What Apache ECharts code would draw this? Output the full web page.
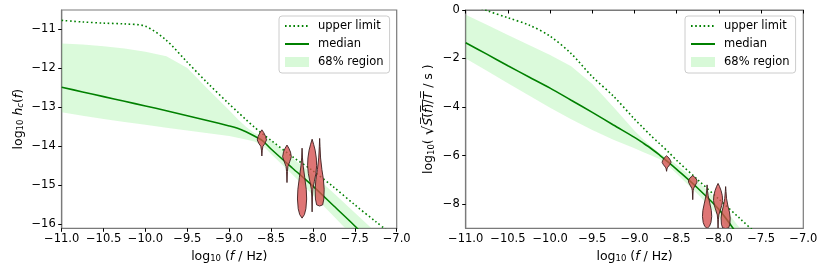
<!DOCTYPE html>
<html><head><meta charset="utf-8">
<script src="https://cdn.jsdelivr.net/npm/echarts@6/dist/echarts.min.js"></script>
<style>html,body{margin:0;padding:0;background:#fff}#c{width:831px;height:274px}</style>
</head><body><div id="c"></div>
<script>
// ---------- data ----------
const freqs = [-11, -10.75, -10.5, -10.25, -10, -9.75, -9.5, -9.25, -9, -8.9, -8.8, -8.7, -8.6, -8.5, -8.25, -8, -7.75, -7.5, -7.25, -7];

// left panel: log10 h_c(f)
const leftUpperLimit = [-10.78, -10.82, -10.85, -10.87, -10.93, -11.29, -11.85, -12.4, -12.92, -13.12, -13.32, -13.51, -13.69, -13.85, -14.26, -14.63, -15.05, -15.5, -15.93, -16.35];
const leftMedian     = [-12.49, -12.61, -12.73, -12.85, -12.97, -13.09, -13.22, -13.35, -13.48, -13.54, -13.63, -13.74, -13.86, -14.07, -14.55, -15.02, -15.53, -16.04, -16.6, -17.1];
const leftBandUpper  = [-11.37, -11.4, -11.44, -11.5, -11.58, -11.7, -12.0, -12.55, -13.08, -13.3, -13.5, -13.66, -13.74, -13.86, -14.3, -14.72, -15.2, -15.7, -16.2, -16.7];
const leftBandLower  = [-13.13, -13.22, -13.3, -13.38, -13.45, -13.53, -13.6, -13.67, -13.74, -13.78, -13.83, -13.88, -13.98, -14.2, -14.72, -15.25, -15.8, -16.35, -16.9, -17.4];

// right panel: log10( sqrt(S(f)/T) / s )
const rightUpperLimit = [0.35, -0.02, -0.32, -0.62, -1.08, -1.8, -2.75, -3.55, -4.5, -4.85, -5.2, -5.52, -5.85, -6.2, -7.0, -7.8, -8.6, -9.4, -10.2, -11.0];
const rightMedian     = [-1.35, -1.82, -2.3, -2.76, -3.22, -3.72, -4.22, -4.74, -5.25, -5.48, -5.72, -5.99, -6.27, -6.57, -7.35, -8.22, -9.4, -10.6, -11.8, -13.0];
const rightBandUpper  = [-0.2, -0.61, -1.03, -1.44, -1.86, -2.32, -3.05, -4.0, -4.98, -5.32, -5.63, -5.92, -6.12, -6.38, -7.08, -7.9, -9.0, -10.1, -11.2, -12.3];
const rightBandLower  = [-2.0, -2.5, -3.02, -3.53, -4.03, -4.5, -4.95, -5.35, -5.7, -5.85, -6.0, -6.15, -6.42, -6.75, -7.6, -8.5, -9.7, -10.9, -12.1, -13.3];

// violins: centre frequency and profile [value, half-width in log10 f]
const leftViolinFreqs = [-8.61, -8.31, -8.13, -8.01, -7.92];
const leftViolinProfiles = [
  [[-13.58,0],[-13.65,0.022],[-13.75,0.045],[-13.84,0.055],[-13.93,0.036],[-14.0,0.013],[-14.1,0.005],[-14.25,0]],
  [[-13.97,0],[-14.05,0.022],[-14.15,0.042],[-14.27,0.052],[-14.4,0.032],[-14.52,0.011],[-14.65,0.005],[-14.93,0]],
  [[-14.05,0],[-14.3,0.005],[-14.5,0.013],[-14.8,0.032],[-15.1,0.05],[-15.35,0.055],[-15.6,0.046],[-15.75,0.028],[-15.84,0]],
  [[-13.82,0],[-13.95,0.018],[-14.1,0.036],[-14.3,0.05],[-14.5,0.054],[-14.7,0.045],[-14.9,0.027],[-15.1,0.009],[-15.3,0.004],[-15.68,0]],
  [[-13.8,0],[-14.0,0.004],[-14.3,0.011],[-14.6,0.027],[-14.85,0.045],[-15.1,0.054],[-15.35,0.05],[-15.5,0.036],[-15.53,0]]
];
const rightViolinFreqs = [-8.62, -8.31, -8.14, -8.01, -7.92];
const rightViolinProfiles = [
  [[-6.01,0],[-6.1,0.028],[-6.2,0.046],[-6.28,0.053],[-6.38,0.037],[-6.48,0.014],[-6.55,0.005],[-6.65,0]],
  [[-6.83,0],[-6.92,0.032],[-7.02,0.05],[-7.1,0.05],[-7.22,0.032],[-7.35,0.011],[-7.45,0.005],[-7.82,0]],
  [[-7.21,0],[-7.46,0.005],[-7.66,0.013],[-7.96,0.032],[-8.26,0.05],[-8.51,0.055],[-8.76,0.046],[-8.92,0.028],[-9.0,0]],
  [[-7.15,0],[-7.28,0.018],[-7.45,0.036],[-7.65,0.05],[-7.85,0.054],[-8.05,0.045],[-8.25,0.027],[-8.45,0.009],[-8.65,0.004],[-9.03,0]],
  [[-7.28,0],[-7.48,0.004],[-7.78,0.011],[-8.08,0.027],[-8.33,0.045],[-8.58,0.054],[-8.83,0.05],[-8.98,0.036],[-9.01,0]]
];

const xTickStep = 0.5;
const leftYTicks = [-16, -15, -14, -13, -12, -11];
const rightYTicks = [-8, -6, -4, -2, 0];
const seriesNames = ['upper limit', 'median', '68% region'];

// ---------- styling ----------
const FONT = 'DejaVu Sans';
const GREEN = '#008000';
const BAND = 'rgba(144,238,144,0.32)';
const VIOLIN_FILL = 'rgba(214,78,78,0.78)';
const VIOLIN_EDGE = 'rgba(60,30,30,0.9)';
const FRAME = '#7a7a7a';

function pairs(xs, ys) { return xs.map((x, i) => [x, ys[i]]); }
function fmtMinus(v, d) { const s = Math.abs(v).toFixed(d); return (v < 0 ? '\u2212' : '') + s; }

function clipGroup(params, children) {
  const cs = params.coordSys;
  return { type: 'group', children,
    clipPath: { type: 'rect', shape: { x: cs.x, y: cs.y, width: cs.width, height: cs.height } } };
}

function bandSeries(idx, xs, up, lo) {
  return {
    name: seriesNames[2], type: 'custom', xAxisIndex: idx, yAxisIndex: idx, z: 1, clip: true,
    itemStyle: { color: BAND },
    data: [[xs[8], lo[8]]],
    renderItem: function (params, api) {
      const pts = [];
      for (let i = 0; i < xs.length; i++) pts.push(api.coord([xs[i], up[i]]));
      for (let i = xs.length - 1; i >= 0; i--) pts.push(api.coord([xs[i], lo[i]]));
      return clipGroup(params, [{ type: 'polygon', shape: { points: pts, smooth: 0 }, style: { fill: BAND } }]);
    }
  };
}

function violinSeries(idx, freqsV, profiles) {
  return {
    type: 'custom', xAxisIndex: idx, yAxisIndex: idx, z: 5, clip: true,
    data: freqsV.map((f, i) => [f, profiles[i][0][0]]),
    renderItem: function (params, api) {
      const i = params.dataIndex, f = freqsV[i], prof = profiles[i];
      const pts = [];
      for (let k = 0; k < prof.length; k++) pts.push(api.coord([f + prof[k][1], prof[k][0]]));
      for (let k = prof.length - 1; k >= 0; k--) pts.push(api.coord([f - prof[k][1], prof[k][0]]));
      return clipGroup(params, [{ type: 'polygon', shape: { points: pts },
        style: { fill: VIOLIN_FILL, stroke: VIOLIN_EDGE, lineWidth: 1 } }]);
    }
  };
}

function lineSeries(idx, name, data, dotted) {
  return {
    name, type: 'line', xAxisIndex: idx, yAxisIndex: idx, data, symbol: 'none', showSymbol: false,
    smooth: 0.3, z: dotted ? 3 : 4, clip: true,
    itemStyle: { color: GREEN },
    lineStyle: { color: GREEN, width: 1.6, type: dotted ? [1.6, 2.6] : 'solid' }
  };
}

const richName = {
  n: { fontFamily: FONT, fontSize: 12.5, color: '#000' },
  it: { fontFamily: FONT, fontSize: 12.5, fontStyle: 'italic', color: '#000' },
  sub: { fontFamily: FONT, fontSize: 8.5, color: '#000', verticalAlign: 'bottom', lineHeight: 9 },
  subit: { fontFamily: FONT, fontSize: 8.5, fontStyle: 'italic', color: '#000', verticalAlign: 'bottom', lineHeight: 9 },
  big: { fontFamily: FONT, fontSize: 15, color: '#000' }
};

function xAxisDef(idx) {
  return {
    type: 'value', gridIndex: idx, min: -11, max: -7, interval: xTickStep,
    name: '{n|log}{sub|10}{n| (}{it|f}{n| / Hz)}', nameLocation: 'middle', nameGap: 20,
    nameTextStyle: { rich: richName },
    axisLine: { show: true, lineStyle: { color: FRAME, width: 1.2 } },
    axisTick: { show: true, length: 3.5, inside: false, lineStyle: { color: '#000' } },
    axisLabel: { margin: 5, fontFamily: FONT, fontSize: 11.5, color: '#000', formatter: v => fmtMinus(v, 1) },
    splitLine: { show: false }
  };
}

function yAxisDef(idx, min, max, ticks, name, gap) {
  return {
    type: 'value', gridIndex: idx, min, max,
    name, nameLocation: 'middle', nameGap: gap, nameRotate: 90,
    nameTextStyle: { rich: richName },
    axisLine: { show: true, lineStyle: { color: FRAME, width: 1.2 } },
    axisTick: { show: true, length: 3.5, customValues: ticks, lineStyle: { color: '#000' } },
    axisLabel: { margin: 6, fontFamily: FONT, fontSize: 11.5, color: '#000', customValues: ticks, formatter: v => fmtMinus(v, 0) },
    splitLine: { show: false }
  };
}

function legendDef(left) {
  return {
    left, top: 16, orient: 'vertical',
    padding: [3, 6, 4, 5], itemGap: 4, itemWidth: 24, itemHeight: 10,
    borderColor: '#cccccc', borderWidth: 1, borderRadius: 3, backgroundColor: 'rgba(255,255,255,0.8)',
    textStyle: { fontFamily: FONT, fontSize: 11.5, color: '#000', padding: [0, 0, 0, 4], lineHeight: 14 },
    selectedMode: false,
    data: [
      { name: seriesNames[0], itemStyle: { opacity: 0 } },
      { name: seriesNames[1], itemStyle: { opacity: 0 } },
      { name: seriesNames[2], icon: 'rect', itemStyle: { color: 'rgba(144,238,144,0.35)' } }
    ]
  };
}

const option = {
  backgroundColor: '#fff',
  animation: false,
  grid: [
    { left: 61.7, top: 10, width: 335, height: 218.3, show: true, borderColor: FRAME, borderWidth: 1.2, outerBoundsMode: 'none', containLabel: false },
    { left: 465.7, top: 10, width: 337.6, height: 218.3, show: true, borderColor: FRAME, borderWidth: 1.2, outerBoundsMode: 'none', containLabel: false }
  ],
  xAxis: [xAxisDef(0), xAxisDef(1)],
  yAxis: [
    yAxisDef(0, -16.1, -10.514, leftYTicks, '{n|log}{sub|10}{n| }{it|h}{subit|c}{n|(}{it|f}{n|)}', 36),
    yAxisDef(1, -9.0, 0, rightYTicks, '{n|log}{sub|10}{n|( }{big|\u221A}{it|S\u0305}{n|(\u0305}{it|f\u0305}{n|)\u0305/\u0305}{it|T\u0305}{n| / s )}', 29)
  ],
  legend: [legendDef(279), legendDef(685)],
  series: [
    bandSeries(0, freqs, leftBandUpper, leftBandLower),
    lineSeries(0, seriesNames[0], pairs(freqs, leftUpperLimit), true),
    lineSeries(0, seriesNames[1], pairs(freqs, leftMedian), false),
    violinSeries(0, leftViolinFreqs, leftViolinProfiles),
    bandSeries(1, freqs, rightBandUpper, rightBandLower),
    lineSeries(1, seriesNames[0], pairs(freqs, rightUpperLimit), true),
    lineSeries(1, seriesNames[1], pairs(freqs, rightMedian), false),
    violinSeries(1, rightViolinFreqs, rightViolinProfiles)
  ]
};

const chart = echarts.init(document.getElementById('c'), null, { renderer: 'canvas' });
chart.setOption(option);
</script>
</body></html>
